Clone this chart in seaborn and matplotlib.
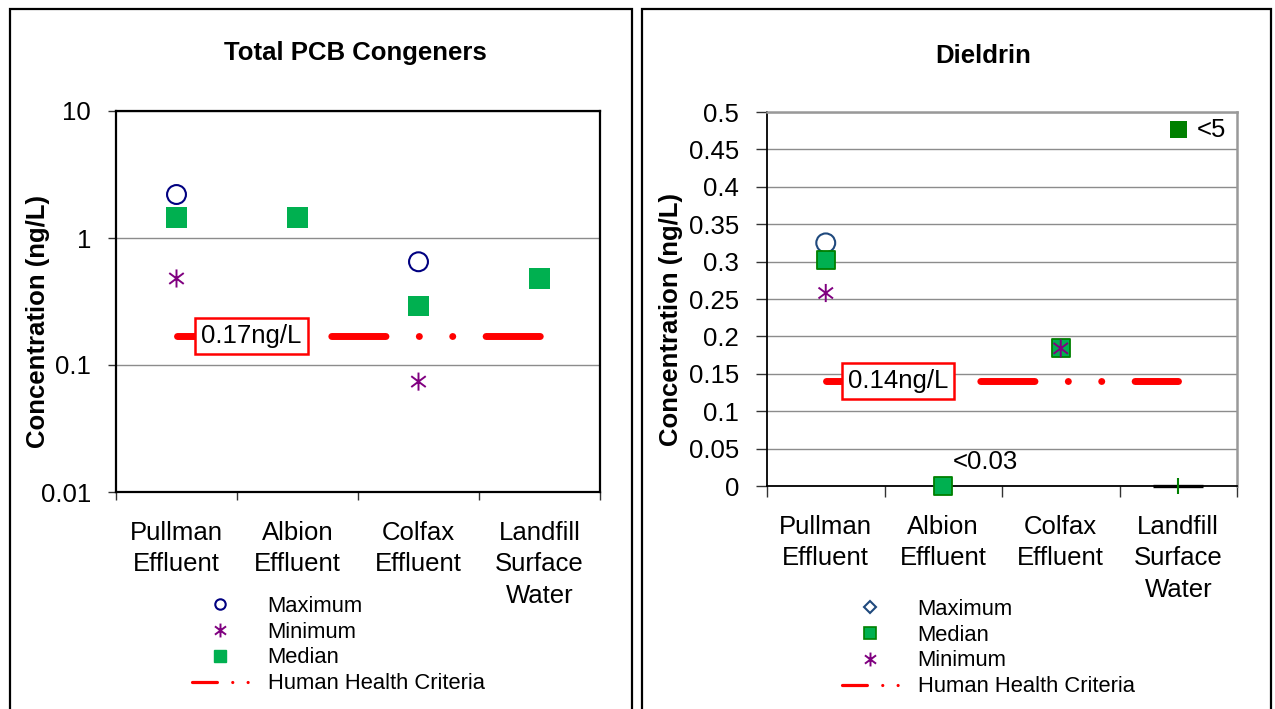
import numpy as np
import matplotlib
matplotlib.use("Agg")
import matplotlib.pyplot as plt
from matplotlib.lines import Line2D
from matplotlib.patches import Rectangle
from matplotlib.path import Path
import seaborn as sns

# ===== data =====
categories = ["Pullman\nEffluent", "Albion\nEffluent", "Colfax\nEffluent", "Landfill\nSurface\nWater"]

# Total PCB congeners (ng/L)
pcb_max = [2.2, np.nan, 0.65, np.nan]
pcb_min = [0.48, np.nan, 0.074, np.nan]
pcb_median = [1.45, 1.45, 0.29, 0.48]
pcb_criteria = 0.17
pcb_criteria_label = "0.17ng/L"

# Dieldrin (ng/L)
diel_max = [0.325, np.nan, np.nan, np.nan]
diel_median = [0.302, 0.0, 0.184, np.nan]
diel_median_nd = [np.nan, np.nan, np.nan, 0.476]   # plotted off-scale, "<5"
diel_min = [0.258, np.nan, 0.184, np.nan]
diel_landfill_zero = [np.nan, np.nan, np.nan, 0.0]
diel_criteria = 0.14
diel_criteria_label = "0.14ng/L"

# ===== style =====
sns.set_style("ticks")
plt.rcParams['font.family'] = ['Liberation Sans', 'DejaVu Sans']
plt.rcParams.update({'text.color': 'black', 'axes.labelcolor': 'black',
                     'xtick.color': 'black', 'ytick.color': 'black'})

W, H = 1275, 709
fig = plt.figure(figsize=(W / 100, H / 100), dpi=100)

FS = 18.5
LEG_FS = 15.8
RED = '#FF0000'
NAVY = '#000080'
DBLUE = '#1F497D'
PURPLE = '#800080'
GREEN = '#00B050'
DGREEN = '#008000'
# Excel-style asterisk: vertical bar plus an X
ASTER = Path([(0, -1), (0, 1), (-0.8, -0.6), (0.8, 0.6), (-0.8, 0.6), (0.8, -0.6)],
             [Path.MOVETO, Path.LINETO] * 3)
CRIT_DASH = (0, (7.8, 4.8, 0.01, 4.8, 0.01, 4.8))

def px_box(x0, y0, x1, y1):
    return [x0 / W, 1 - y1 / H, (x1 - x0) / W, (y1 - y0) / H]

# panel frames
for x0, x1 in [(10, 632), (642, 1271)]:
    fig.patches.append(Rectangle((x0 / W, -0.1), (x1 - x0) / W, 1.1 - 9 / H,
                                 transform=fig.transFigure, fill=False,
                                 edgecolor='black', linewidth=1.6, clip_on=False))

xpos = np.arange(len(categories))


def setup_xaxis(ax):
    ax.set_xlim(-0.5, len(categories) - 0.5)
    ax.set_xticks(np.arange(-0.5, len(categories)), labels=[''] * (len(categories) + 1))
    ax.set_xticks(xpos, minor=True)
    ax.set_xticklabels(categories, minor=True, fontsize=FS, linespacing=1.38)
    ax.tick_params(axis='x', which='major', length=6, width=1, direction='out', color='#333333')
    ax.tick_params(axis='x', which='minor', length=0, pad=21, labelcolor='black')
    ax.tick_params(axis='y', which='major', length=6, width=1, direction='out', pad=12,
                   labelsize=FS, color='#333333', labelcolor='black')


def criteria_line(ax, y, label, label_x):
    ax.plot([xpos[0], xpos[-1]], [y, y], color=RED, linewidth=5, linestyle=CRIT_DASH,
            dash_capstyle='round', solid_capstyle='round', zorder=2)
    ax.text(label_x, y, label, fontsize=FS, ha='center', va='center', zorder=5,
            bbox=dict(boxstyle='square,pad=0.24', facecolor='white', edgecolor=RED, linewidth=1.8))


crit_handle = Line2D([], [], color=RED, linewidth=2.3, linestyle=CRIT_DASH, dash_capstyle='round')

# ===================== left: Total PCB Congeners =====================
ax1 = fig.add_axes(px_box(116, 111, 600, 492))
ax1.set_yscale('log')
ax1.set_ylim(0.01, 10)
ax1.set_yticks([0.01, 0.1, 1, 10], labels=['0.01', '0.1', '1', '10'])
ax1.yaxis.set_minor_locator(matplotlib.ticker.NullLocator())
ax1.yaxis.grid(True, color='#8c8c8c', linewidth=1)
ax1.set_axisbelow(True)

sns.scatterplot(x=xpos, y=pcb_max, marker='o', s=185, facecolor='none',
                edgecolor=NAVY, linewidth=1.5, ax=ax1, zorder=3)
sns.scatterplot(x=xpos, y=pcb_min, marker=ASTER, s=170, facecolor='none', edgecolor=PURPLE,
                linewidth=1.4, ax=ax1, zorder=3)
sns.scatterplot(x=xpos, y=pcb_median, marker='s', s=215, color=GREEN,
                edgecolor='none', ax=ax1, zorder=3)
criteria_line(ax1, pcb_criteria, pcb_criteria_label, 0.62)
setup_xaxis(ax1)
for sp in ax1.spines.values():
    sp.set_visible(True)
    sp.set_color('black')
    sp.set_linewidth(1.6)

fig.text(355 / W, 1 - 53 / H, 'Total PCB Congeners', fontsize=FS, fontweight='bold',
         ha='center', va='center')
fig.text(38 / W, 1 - 322 / H, 'Concentration (ng/L)', fontsize=FS, fontweight='bold',
         rotation=90, ha='center', va='center')

h1 = [Line2D([], [], marker='o', linestyle='none', markersize=7.5, markerfacecolor='none',
             markeredgecolor=NAVY, markeredgewidth=1.5),
      Line2D([], [], marker=ASTER, linestyle='none', markersize=10, markerfacecolor='none',
             markeredgecolor=PURPLE, markeredgewidth=1.4),
      Line2D([], [], marker='s', linestyle='none', markersize=9, markerfacecolor=GREEN,
             markeredgecolor=GREEN),
      crit_handle]
fig.legend(h1, ['Maximum', 'Minimum', 'Median', 'Human Health Criteria'],
           loc='center left', bbox_to_anchor=(192 / W, 1 - 645 / H), frameon=False,
           fontsize=LEG_FS, handlelength=2.55, handletextpad=0.9, labelspacing=0.22,
           borderpad=0, borderaxespad=0)

# ===================== right: Dieldrin =====================
ax2 = fig.add_axes(px_box(767, 112, 1237, 486))
ax2.set_ylim(0, 0.5)
yt = np.arange(0, 0.501, 0.05)
ax2.set_yticks(yt, labels=['0' if v == 0 else f'{v:g}' for v in np.round(yt, 2)])
ax2.yaxis.grid(True, color='#8c8c8c', linewidth=1)
ax2.set_axisbelow(True)

sns.scatterplot(x=xpos, y=diel_max, marker='o', s=185, facecolor='none',
                edgecolor=DBLUE, linewidth=1.5, ax=ax2, zorder=3)
sns.scatterplot(x=xpos, y=diel_median, marker='s', s=175, color=GREEN,
                edgecolor=DGREEN, linewidth=1.3, ax=ax2, zorder=3, clip_on=False)
sns.scatterplot(x=xpos, y=diel_median_nd, marker='s', s=150, color=DGREEN,
                edgecolor='none', ax=ax2, zorder=3)
sns.scatterplot(x=xpos, y=diel_min, marker=ASTER, s=170, facecolor='none', edgecolor=PURPLE,
                linewidth=1.4, ax=ax2, zorder=4)
ax2.plot(xpos, diel_landfill_zero, marker='_', linestyle='none', markersize=36,
         markeredgewidth=2.4, color='black', zorder=4, clip_on=False)
ax2.plot(xpos, diel_landfill_zero, marker='|', linestyle='none', markersize=12,
         markeredgewidth=1.5, color=DGREEN, zorder=5, clip_on=False)
criteria_line(ax2, diel_criteria, diel_criteria_label, 0.615)
ax2.text(1.08, 0.032, '<0.03', fontsize=FS, ha='left', va='center')
ax2.text(3.16, 0.476, '<5', fontsize=FS, ha='left', va='center')
setup_xaxis(ax2)
ax2.tick_params(axis='y', length=8)
ax2.tick_params(axis='x', which='major', length=8)
for side in ['left', 'bottom']:
    ax2.spines[side].set_color('black')
    ax2.spines[side].set_linewidth(1.3)
for side in ['top', 'right']:
    ax2.spines[side].set_visible(True)
    ax2.spines[side].set_color('#999999')
    ax2.spines[side].set_linewidth(1.8)

fig.text(983 / W, 1 - 56 / H, 'Dieldrin', fontsize=FS, fontweight='bold',
         ha='center', va='center')
fig.text(671 / W, 1 - 320 / H, 'Concentration (ng/L)', fontsize=FS, fontweight='bold',
         rotation=90, ha='center', va='center')

h2 = [Line2D([], [], marker='D', linestyle='none', markersize=6.5, markerfacecolor='none',
             markeredgecolor=DBLUE, markeredgewidth=1.5),
      Line2D([], [], marker='s', linestyle='none', markersize=8.5, markerfacecolor=GREEN,
             markeredgecolor=DGREEN, markeredgewidth=1.2),
      Line2D([], [], marker=ASTER, linestyle='none', markersize=10, markerfacecolor='none',
             markeredgecolor=PURPLE, markeredgewidth=1.4),
      crit_handle]
fig.legend(h2, ['Maximum', 'Median', 'Minimum', 'Human Health Criteria'],
           loc='center left', bbox_to_anchor=(842 / W, 1 - 648 / H), frameon=False,
           fontsize=LEG_FS, handlelength=2.55, handletextpad=0.9, labelspacing=0.22,
           borderpad=0, borderaxespad=0)

fig.savefig('out.png', dpi=100)
